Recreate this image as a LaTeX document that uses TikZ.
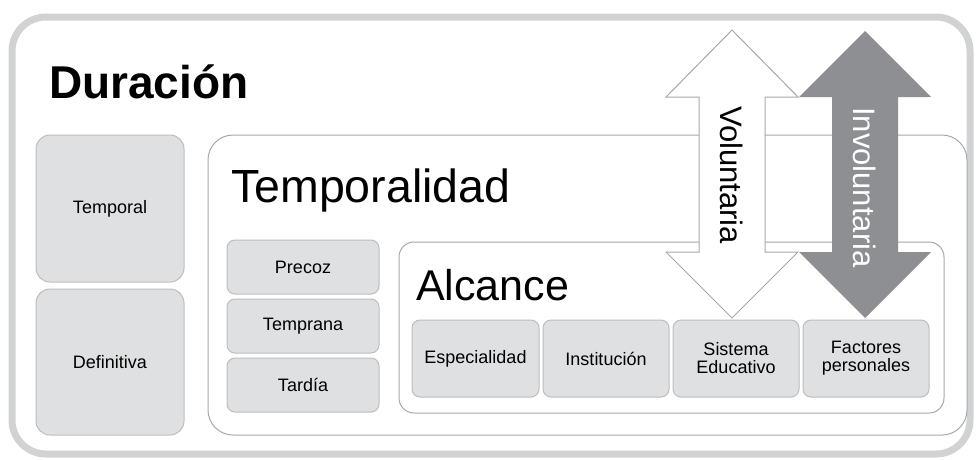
\documentclass[tikz,border=0pt]{standalone}
\usepackage{fontspec}
\setmainfont{Liberation Sans}
\usetikzlibrary{positioning}
\definecolor{framegray}{HTML}{D1D2D4}
\definecolor{boxfill}{HTML}{DFE0E2}
\definecolor{boxline}{HTML}{BCBDBF}
\definecolor{panelline}{HTML}{A7A8AA}
\definecolor{arrowgray}{HTML}{8E8F92}
\tikzset{
  cell/.style={draw=boxline,fill=boxfill,line width=1pt,rounded corners=8pt,
    inner sep=0pt,align=center,font=\fontsize{18}{18}\selectfont},
  panel/.style={draw=panelline,fill=white,line width=1pt},
  title/.style={anchor=base west,inner sep=0pt}
}

\begin{document}
\begin{tikzpicture}[x=1pt,y=-1pt]
  \useasboundingbox (0,0) rectangle (977,459);
  \draw[line width=7pt,framegray,rounded corners=34pt] (12,17) rectangle (970,454);
  \node[title,font=\fontsize{46}{50}\selectfont\bfseries] (duracion) at (49,98) {Duración};
  \node[cell,rounded corners=14pt,minimum width=148,minimum height=147] (temporal) at (110,208.5) {Temporal};
  \node[cell,rounded corners=14pt,minimum width=148,minimum height=146] (definitiva) at (110,362) {Definitiva};
  \draw[panel,rounded corners=25pt] (208,135) rectangle (967,435);
  \node[title,font=\fontsize{46.5}{50}\selectfont] (temporalidad) at (231,202) {Temporalidad};
  \node[cell,minimum width=152,minimum height=54] (precoz) at (303,267) {Precoz};
  \node[cell,minimum width=152,minimum height=54,below=4pt of precoz] (temprana) {Temprana};
  \node[cell,minimum width=152,minimum height=54,below=4pt of temprana] (tardia) {Tardía};
  \draw[panel,rounded corners=15pt] (399,242) rectangle (944,413);
  \node[title,font=\fontsize{43}{46}\selectfont] (alcance) at (416,300) {Alcance};
  \node[cell,minimum width=127,minimum height=77] (especialidad) at (475.5,358.5) {Especialidad};
  \node[cell,minimum width=126,minimum height=77,right=3pt of especialidad] (institucion) {Institución};
  \node[cell,minimum width=126,minimum height=77,right=3pt of institucion] (sistema) {Sistema\\Educativo};
  \node[cell,minimum width=126,minimum height=77,right=3pt of sistema] (factores) {Factores\\personales};
  \draw[fill=white,draw=panelline,line width=1pt] (732,30) -- (798,97) -- (765,97) -- (765,252)
    -- (798,252) -- (732,318) -- (666,252) -- (699,252) -- (699,97) -- (666,97) -- cycle;
  \fill[arrowgray] (865,31) -- (931,97) -- (898,97) -- (898,252) -- (931,252) -- (865,318)
    -- (799,252) -- (832,252) -- (832,97) -- (799,97) -- cycle;
  \node[rotate=-90,anchor=west,inner sep=0pt,font=\fontsize{31}{31}\selectfont] (voluntaria) at (732,106) {Voluntaria};
  \node[rotate=-90,anchor=west,inner sep=0pt,text=white,font=\fontsize{31}{31}\selectfont] (involuntaria) at (865,107) {Involuntaria};
\end{tikzpicture}
\end{document}
